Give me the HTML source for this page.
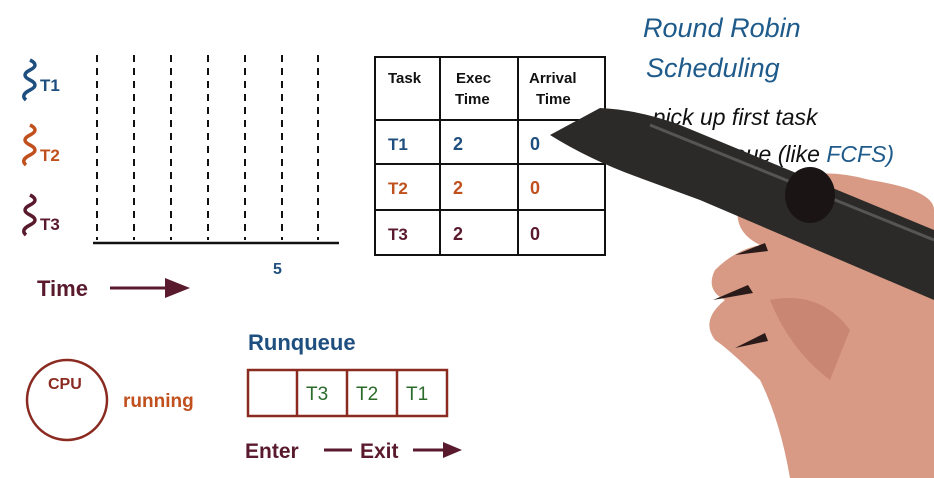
<!DOCTYPE html>
<html><head><style>
html,body{margin:0;padding:0;background:#fff;}
svg{display:block}
text{font-family:"Liberation Sans",sans-serif;font-weight:bold}
.h{font-family:"Liberation Sans",sans-serif;font-weight:normal}
</style></head><body>
<svg width="934" height="478" viewBox="0 0 934 478">
<rect width="934" height="478" fill="#fff"/>
<!-- squiggles -->
<path d="M30 60 q10 5 0 10 q-10 5 0 10 q10 5 0 10 q-10 5 -4 10" stroke="#1e4f7e" stroke-width="3.5" fill="none"/>
<path d="M30 125 q10 5 0 10 q-10 5 0 10 q10 5 0 10 q-10 5 -4 10" stroke="#c0501e" stroke-width="3.5" fill="none"/>
<path d="M30 195 q10 5 0 10 q-10 5 0 10 q10 5 0 10 q-10 5 -4 10" stroke="#5a1a2e" stroke-width="3.5" fill="none"/>
<text x="40" y="91" font-size="17" fill="#1e4f7e">T1</text>
<text x="40" y="161" font-size="17" fill="#c0501e">T2</text>
<text x="40" y="230" font-size="17" fill="#5a1a2e">T3</text>
<g stroke="#111" stroke-width="2" stroke-dasharray="7,6">
<line x1="97" y1="55" x2="97" y2="240"/><line x1="134" y1="55" x2="134" y2="240"/>
<line x1="171" y1="55" x2="171" y2="240"/><line x1="208" y1="55" x2="208" y2="240"/>
<line x1="245" y1="55" x2="245" y2="240"/><line x1="282" y1="55" x2="282" y2="240"/>
<line x1="318" y1="55" x2="318" y2="240"/></g>
<line x1="93" y1="243" x2="339" y2="243" stroke="#111" stroke-width="2.5"/>
<text x="273" y="274" font-size="16" fill="#1e4f7e">5</text>
<text x="37" y="296" font-size="22" fill="#5a1a2e">Time</text>
<line x1="110" y1="288" x2="170" y2="288" stroke="#5a1a2e" stroke-width="3"/>
<polygon points="165,278 190,288 165,298" fill="#5a1a2e"/>
<!-- table -->
<g stroke="#111" stroke-width="2" fill="none">
<rect x="375" y="57" width="230" height="198"/>
<line x1="440" y1="57" x2="440" y2="255"/><line x1="518" y1="57" x2="518" y2="255"/>
<line x1="375" y1="120" x2="605" y2="120"/><line x1="375" y1="164" x2="605" y2="164"/><line x1="375" y1="210" x2="605" y2="210"/>
</g>
<text x="388" y="83" font-size="15" fill="#111">Task</text>
<text x="456" y="83" font-size="15" fill="#111">Exec</text>
<text x="455" y="104" font-size="15" fill="#111">Time</text>
<text x="529" y="83" font-size="15" fill="#111">Arrival</text>
<text x="536" y="104" font-size="15" fill="#111">Time</text>
<text x="388" y="150" font-size="17" fill="#1e4f7e">T1</text><text x="453" y="150" font-size="18" fill="#1e4f7e">2</text><text x="530" y="150" font-size="18" fill="#1e4f7e">0</text>
<text x="388" y="194" font-size="17" fill="#c0501e">T2</text><text x="453" y="194" font-size="18" fill="#c0501e">2</text><text x="530" y="194" font-size="18" fill="#c0501e">0</text>
<text x="388" y="240" font-size="17" fill="#5a1a2e">T3</text><text x="453" y="240" font-size="18" fill="#5a1a2e">2</text><text x="530" y="240" font-size="18" fill="#5a1a2e">0</text>
<!-- CPU -->
<circle cx="67" cy="400" r="40" fill="none" stroke="#8a2a20" stroke-width="2.5"/>
<text x="48" y="389" font-size="16" fill="#8a2a20">CPU</text>
<text x="123" y="407" font-size="19" fill="#c0501e">running</text>
<text x="248" y="350" font-size="22" fill="#1e4f7e">Runqueue</text>
<g stroke="#8a2a20" stroke-width="2.5" fill="none">
<rect x="248" y="370" width="199" height="46"/>
<line x1="297" y1="370" x2="297" y2="416"/><line x1="347" y1="370" x2="347" y2="416"/><line x1="397" y1="370" x2="397" y2="416"/></g>
<text class="h" x="306" y="400" font-size="19" fill="#2a6a2a">T3</text>
<text class="h" x="356" y="400" font-size="19" fill="#2a6a2a">T2</text>
<text class="h" x="406" y="400" font-size="19" fill="#2a6a2a">T1</text>
<text x="245" y="458" font-size="21" fill="#5a1a2e">Enter</text>
<line x1="324" y1="450" x2="352" y2="450" stroke="#5a1a2e" stroke-width="3"/>
<text x="360" y="458" font-size="21" fill="#5a1a2e">Exit</text>
<line x1="413" y1="450" x2="445" y2="450" stroke="#5a1a2e" stroke-width="3"/>
<polygon points="443,442 462,450 443,458" fill="#5a1a2e"/>
<!-- handwriting -->
<text class="h" x="643" y="37" font-size="27" fill="#1e5a8a" font-style="italic">Round Robin</text>
<text class="h" x="646" y="77" font-size="27" fill="#1e5a8a" font-style="italic">Scheduling</text>
<text class="h" x="645" y="125" font-size="23" fill="#111" font-style="italic">-pick up first task</text>
<text class="h" x="655" y="162" font-size="23" fill="#111" font-style="italic">from queue (like <tspan fill="#1e5a8a">FCFS)</tspan></text>
<!-- hand -->
<path d="M740 200 Q800 160 870 180 Q934 190 934 210 L934 478 L790 478 Q780 420 760 380 Q730 350 715 340 Q700 320 725 300 Q705 290 715 270 Q735 250 760 245 Q730 230 740 200 Z" fill="#d89a84"/>
<path d="M770 300 Q820 290 850 330 L830 380 Q790 350 770 300 Z" fill="#c98672"/>
<!-- pen -->
<path d="M550 135 L600 108 Q640 110 680 125 L934 230 L934 300 L700 200 L640 178 Q590 160 550 135 Z" fill="#2b2a28"/>
<path d="M650 125 L934 240" stroke="#555" stroke-width="3" fill="none"/>
<ellipse cx="810" cy="195" rx="25" ry="28" fill="#1a1414"/>
<path d="M713 300 l35 -15 l5 8 z M735 255 l30 -12 l3 8 z M735 348 l30 -15 l3 8 z" fill="#2a1a1a"/>
</svg>
</body></html>
